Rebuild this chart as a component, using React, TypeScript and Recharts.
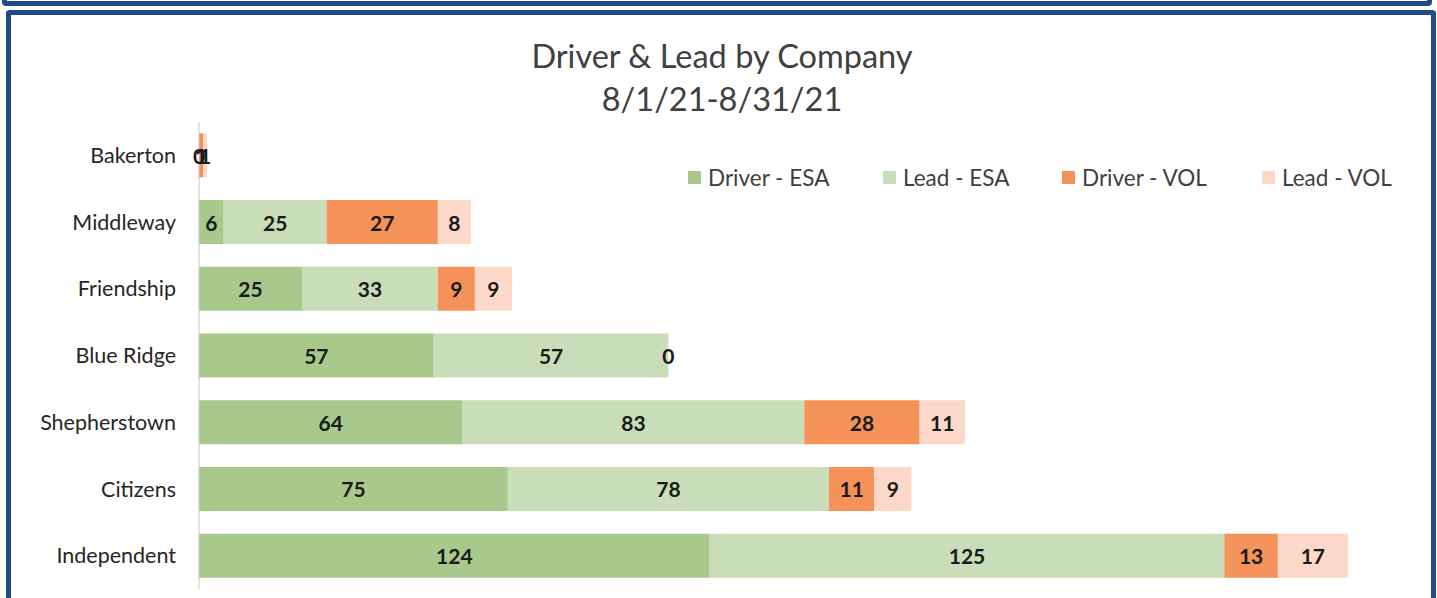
import { BarChart, Bar, XAxis, YAxis, LabelList } from "recharts";

const companies = [
  "Bakerton",
  "Middleway",
  "Friendship",
  "Blue Ridge",
  "Shepherstown",
  "Citizens",
  "Independent",
];
const driverEsa: (number | null)[] = [0, 6, 25, 57, 64, 75, 124];
const leadEsa: (number | null)[] = [null, 25, 33, 57, 83, 78, 125];
const driverVol: (number | null)[] = [1, 27, 9, 0, 28, 11, 13];
const leadVol: (number | null)[] = [1, 8, 9, null, 11, 9, 17];

const series = [
  { key: "driverEsa", name: "Driver - ESA", color: "#a9c98c" },
  { key: "leadEsa", name: "Lead - ESA", color: "#c8ddb8" },
  { key: "driverVol", name: "Driver - VOL", color: "#f4925a" },
  { key: "leadVol", name: "Lead - VOL", color: "#fbd8c8" },
];

const data = companies.map((name, i) => ({
  name,
  driverEsa: driverEsa[i],
  leadEsa: leadEsa[i],
  driverVol: driverVol[i],
  leadVol: leadVol[i],
}));

const font = "Lato, 'Open Sans', sans-serif";

// legend sits outside the chart so it does not shrink the plot
function LegendBox() {
  const xs = [688, 883, 1062, 1262];
  return (
    <>
      {series.map((s, i) => (
        <div
          key={s.key}
          style={{
            position: "absolute",
            left: xs[i],
            top: 164,
            display: "flex",
            alignItems: "center",
            fontFamily: font,
            fontSize: 22.5,
            color: "#404040",
            whiteSpace: "nowrap",
          }}
        >
          <span
            style={{
              display: "inline-block",
              width: 13,
              height: 13,
              background: s.color,
              marginRight: 7,
            }}
          />
          {s.name}
        </div>
      ))}
    </>
  );
}

const renderLabel = (props: any) => {
  const { x, y, width, height, value } = props;
  if (value === null || value === undefined) return null;
  return (
    <text
      x={Number(x) + Number(width) / 2}
      y={Number(y) + Number(height) / 2}
      textAnchor="middle"
      dominantBaseline="central"
      fontFamily={font}
      fontSize={21}
      fontWeight={700}
      fill="#1a1a1a"
    >
      {value}
    </text>
  );
};

export default function App() {
  return (
    <div
      style={{
        position: "absolute",
        left: 0,
        top: 0,
        width: 1437,
        height: 598,
        background: "#fff",
        overflow: "hidden",
      }}
    >
      <div
        style={{
          position: "absolute",
          left: 2,
          top: -12,
          width: 1430,
          height: 18,
          border: "5px solid #1f4b86",
          borderRadius: 4,
          boxSizing: "border-box",
        }}
      />
      <div
        style={{
          position: "absolute",
          left: 6,
          top: 10,
          width: 1430,
          height: 594,
          borderTop: "5px solid #1f4b86",
          borderLeft: "5px solid #1f4b86",
          borderRight: "5px solid #1f4b86",
          borderBottom: "3px solid #8fc6e4",
          borderRadius: 4,
          boxSizing: "border-box",
        }}
      />
      <div
        style={{
          position: "absolute",
          left: 0,
          width: 1444,
          top: 34,
          textAlign: "center",
          fontFamily: font,
          fontSize: 32.5,
          lineHeight: "43px",
          color: "#404040",
        }}
      >
        Driver &amp; Lead by Company
        <br />
        8/1/21-8/31/21
      </div>
      <LegendBox />
      <div style={{ position: "absolute", left: 0, top: 0 }}>
        <BarChart
          width={1437}
          height={598}
          data={data}
          layout="vertical"
          margin={{ top: 122, right: 85, bottom: 9, left: 9 }}
          barCategoryGap="17%"
        >
          <XAxis type="number" domain={[0, 280]} hide />
          <YAxis
            type="category"
            dataKey="name"
            width={190}
            axisLine={{ stroke: "#c8c8c8" }}
            tickLine={false}
            tickSize={0}
            tickMargin={23}
            tick={{ fontFamily: font, fontSize: 21.5, fill: "#262626" }}
          />
          {series.map((s) => (
            <Bar
              key={s.key}
              dataKey={s.key}
              name={s.name}
              stackId="a"
              fill={s.color}
              minPointSize={0.01}
              isAnimationActive={false}
            >
              <LabelList dataKey={s.key} content={renderLabel} />
            </Bar>
          ))}
        </BarChart>
      </div>
    </div>
  );
}
